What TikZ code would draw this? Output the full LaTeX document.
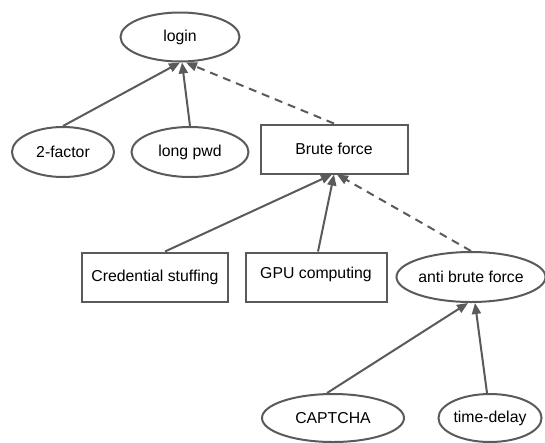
\documentclass[tikz,border=0pt]{standalone}
\usepackage{fontspec}
\setmainfont{Liberation Sans}
\usetikzlibrary{shapes.geometric,arrows.meta}
\definecolor{edgegray}{HTML}{5A5A5A}
\begin{document}
\begin{tikzpicture}[x=1pt,y=-1pt,
  font=\fontsize{15.8}{18}\selectfont,
  goal/.style={ellipse,draw=edgegray,line width=2pt,inner sep=0pt},
  task/.style={rectangle,draw=edgegray,line width=2pt,inner sep=0pt},
  arr/.style={draw=edgegray,line width=2pt,-{Triangle[length=11pt,width=9pt]}},
  dasharr/.style={arr,dash pattern=on 8pt off 6pt}]
\useasboundingbox (0,0) rectangle (545,442);

% goals (ellipses)
\node[goal,minimum width=119pt,minimum height=49pt] (login) at (180,37) {login};
\node[goal,minimum width=102pt,minimum height=50pt] (twofa) at (63,152) {2-factor};
\node[goal,minimum width=117pt,minimum height=50pt] (longpwd) at (190,152) {long pwd};
\node[goal,minimum width=144pt,minimum height=50pt] (anti) at (471,277) {anti brute force};
\node[goal,minimum width=142pt,minimum height=48pt] (captcha) at (333,418) {CAPTCHA};
\node[goal,minimum width=103pt,minimum height=48pt] (delay) at (490,418) {time-delay};

% tasks (boxes)
\node[task,minimum width=147pt,minimum height=49pt] (brute) at (334,149) {Brute force};
\node[task,minimum width=146pt,minimum height=49pt] (cred) at (155,277) {Credential stuffing};
\node[task,minimum width=141pt,minimum height=49pt] (gpu) at (316,277) {\raisebox{3pt}[\height][\depth]{GPU computing}};

% links
\draw[arr] (twofa.north) -- (login.south);
\draw[arr] (longpwd.north) -- ([xshift=2pt]login.south);
\draw[dasharr] (brute.north) -- ([xshift=6pt]login.south);

\draw[arr] ([xshift=10pt]cred.north) -- ([xshift=-2pt]brute.south);
\draw[arr] ([xshift=2pt]gpu.north) -- (brute.south);
\draw[dasharr] (anti.north) -- ([xshift=3pt]brute.south);

\draw[arr] ([xshift=-6pt]captcha.north) -- ([xshift=-3pt]anti.south);
\draw[arr] ([xshift=-3pt]delay.north) -- ([xshift=4pt]anti.south);
\end{tikzpicture}
\end{document}
